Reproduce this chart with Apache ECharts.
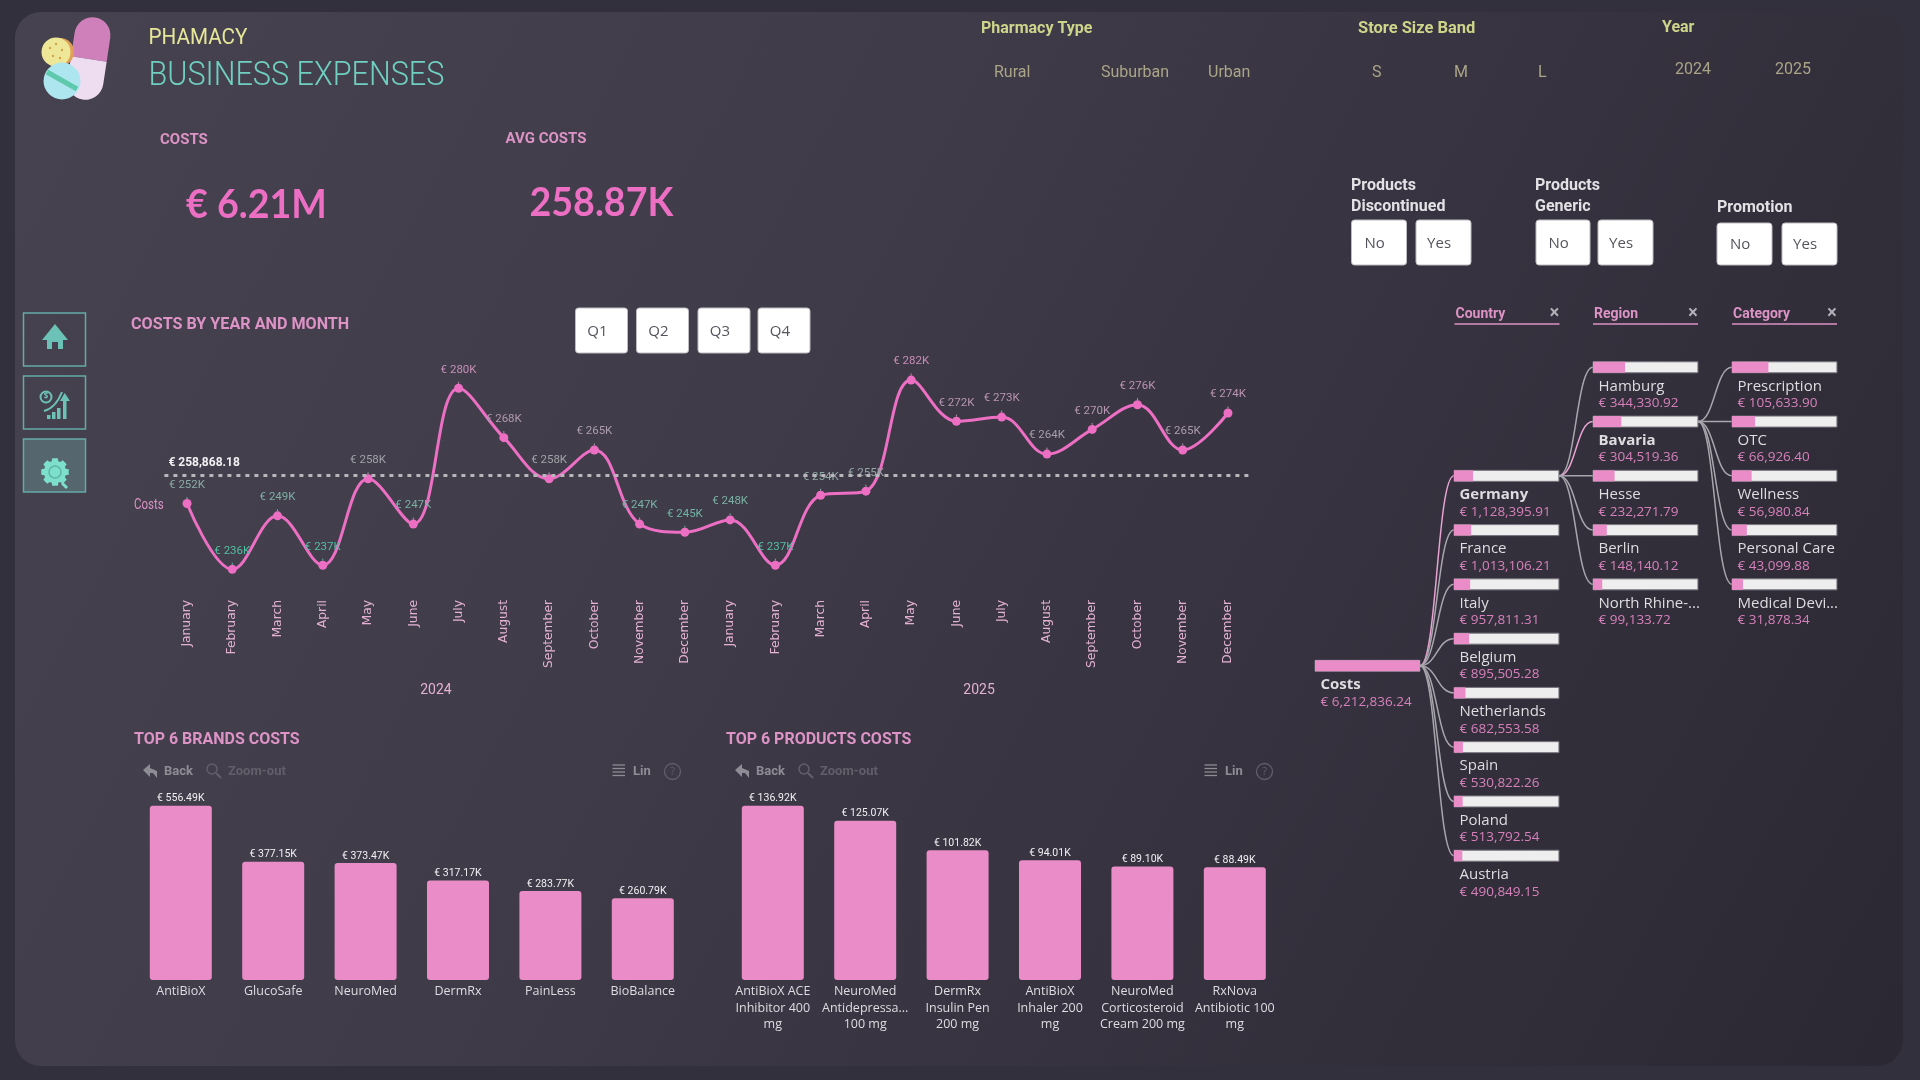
<!DOCTYPE html>
<html>
<head>
<meta charset="utf-8">
<title>Pharmacy Business Expenses</title>
<script src="https://cdn.jsdelivr.net/npm/echarts@6/dist/echarts.min.js"></script>
<style>
  html, body { margin: 0; padding: 0; width: 1920px; height: 1080px; overflow: hidden; background: #33303d; }
  #panel { position: absolute; left: 15px; top: 12px; width: 1888px; height: 1054px; border-radius: 26px;
           background: linear-gradient(118deg, #46424f 0%, #403c4a 35%, #36323f 65%, #2b2833 100%); }
  #chart { position: absolute; left: 0; top: 0; width: 1920px; height: 1080px; }
</style>
</head>
<body>
<div id="panel"></div>
<div id="chart"></div>
<script>
// Monthly costs, in thousands of euros
const months = ['January','February','March','April','May','June','July','August','September','October','November','December',
                'January','February','March','April','May','June','July','August','September','October','November','December'];
const years = ['2024', '2025'];
const monthlyCosts = [252,236,249,237,258,247,280,268,258,265,247,245,248,237,254,255,282,272,273,264,270,276,265,274];
const averageCost = 258.86818;

// Top six rankings, in thousands of euros
const brandNames = ['AntiBioX','GlucoSafe','NeuroMed','DermRx','PainLess','BioBalance'];
const brandCosts = [556.49,377.15,373.47,317.17,283.77,260.79];
const productNames = ['AntiBioX ACE\nInhibitor 400\nmg','NeuroMed\nAntidepressa...\n100 mg','DermRx\nInsulin Pen\n200 mg','AntiBioX\nInhaler 200\nmg','NeuroMed\nCorticosteroid\nCream 200 mg','RxNova\nAntibiotic 100\nmg'];
const productCosts = [136.92,125.07,101.82,94.01,89.10,88.49];

// Decomposition tree, in euros
const totalCost = 6212836.24;
const countryNames = ['Germany','France','Italy','Belgium','Netherlands','Spain','Poland','Austria'];
const countryCosts = [1128395.91,1013106.21,957811.31,895505.28,682553.58,530822.26,513792.54,490849.15];
const regionNames = ['Hamburg','Bavaria','Hesse','Berlin','North Rhine-...'];
const regionCosts = [344330.92,304519.36,232271.79,148140.12,99133.72];
const categoryNames = ['Prescription','OTC','Wellness','Personal Care','Medical Devi...'];
const categoryCosts = [105633.90,66926.40,56980.84,43099.88,31878.34];

const HEAD = 'Roboto, sans-serif';
const BODY = '"Open Sans", sans-serif';
const PINK = '#ec6fc4', BAR = '#ea8cc8', SOFT = '#dd93c6', TEAL = '#6fcfc0';

function eur(v) {
  return '€ ' + v.toLocaleString('en-US', { minimumFractionDigits: 2, maximumFractionDigits: 2 });
}
function mix(a, b, t) {
  const pa = a.match(/\w\w/g).map(h => parseInt(h, 16)), pb = b.match(/\w\w/g).map(h => parseInt(h, 16));
  return 'rgb(' + pa.map((c, i) => Math.round(c + (pb[i] - c) * t)).join(',') + ')';
}
// Labels shift from teal on low months through grey to pink on high months
function costColour(v) {
  return v < 258 ? mix('#4fc0a0', '#a0a4a8', (v - 236) / 22) : mix('#a0a4a8', '#c98cb8', (v - 258) / 24);
}

// Tree rows: column, row, value, parent value, parent row, emphasised, name
const treeNodes = [[0, 5.5, totalCost, totalCost, -1, 1, 'Costs']];
countryNames.forEach((n, i) => treeNodes.push([1, i + 2, countryCosts[i], totalCost, 5.5, i === 0 ? 1 : 0, n]));
regionNames.forEach((n, i) => treeNodes.push([2, i, regionCosts[i], countryCosts[0], 2, i === 1 ? 1 : 0, n]));
categoryNames.forEach((n, i) => treeNodes.push([3, i, categoryCosts[i], regionCosts[1], 1, 0, n]));
const COLUMN_SHARE = 0.755;

function renderTreeNode(params, api) {
  const node = treeNodes[params.dataIndex];
  const [col, row, value, parentValue, parentRow, strong, name] = node;
  const left = api.coord([col, row]);
  const right = api.coord([col + COLUMN_SHARE, row]);
  const fill = api.coord([col + COLUMN_SHARE * value / parentValue, row]);
  const h = 11;
  const kids = [];
  if (parentRow >= 0) {
    const from = api.coord([col - 1 + COLUMN_SHARE, parentRow]);
    const mid = (from[0] + left[0]) / 2;
    kids.push({
      type: 'bezierCurve',
      shape: { x1: from[0], y1: from[1], x2: left[0], y2: left[1], cpx1: mid, cpy1: from[1], cpx2: mid, cpy2: left[1] },
      style: { stroke: strong ? '#e8a3d2' : '#a8a6ad', lineWidth: 1.5, fill: null }
    });
  }
  kids.push({ type: 'rect', shape: { x: left[0], y: left[1] - h / 2, width: right[0] - left[0], height: h },
              style: { fill: '#eeeeee', stroke: '#77757d', lineWidth: 1 } });
  kids.push({ type: 'rect', shape: { x: left[0], y: left[1] - h / 2, width: fill[0] - left[0], height: h },
              style: { fill: BAR } });
  kids.push({ type: 'text', style: { x: left[0] + 5.5, y: left[1] + 19, text: name, fill: '#dedde0',
              font: (strong ? 'bold ' : '') + '15px ' + BODY, textVerticalAlign: 'middle' } });
  kids.push({ type: 'text', style: { x: left[0] + 5.5, y: left[1] + 36, text: eur(value), fill: '#d681bb',
              font: '13.5px ' + BODY, textVerticalAlign: 'middle' } });
  return { type: 'group', children: kids };
}

// Static page furniture
function txt(x, y, text, fill, font, align, squeeze) {
  return { type: 'text', x, y, scaleX: squeeze || 1,
           style: { text, fill, font, textAlign: align || 'left', textVerticalAlign: 'middle' } };
}
function button(x, y, w, h, label, size) {
  return [
    { type: 'rect', shape: { x, y, width: w, height: h, r: 3 }, style: { fill: '#ffffff', stroke: '#bdbcc2', lineWidth: 1 } },
    txt(x + w * 0.42, y + h / 2 + 1, label, '#55535c', size + 'px ' + BODY, 'center')
  ];
}
function gearTeeth(cx, cy, r) {
  const pts = [];
  for (let i = 0; i < 8; i++) {
    const a = i * Math.PI / 4;
    [[-0.3, r * 0.8], [-0.2, r], [0.2, r], [0.3, r * 0.8]].forEach(([d, rad]) => {
      pts.push([cx + Math.cos(a + d) * rad, cy + Math.sin(a + d) * rad]);
    });
  }
  return pts;
}
function toolbar(dx) {
  const grey = '#8e8c94', dim = '#625f6b';
  return [
    { type: 'polygon', shape: { points: [[143 + dx, 770], [150 + dx, 764], [150 + dx, 768], [157 + dx, 771], [157 + dx, 778], [153 + dx, 773], [150 + dx, 773], [150 + dx, 777]] },
      style: { fill: grey } },
    txt(164 + dx, 772, 'Back', grey, 'bold 13px ' + HEAD),
    { type: 'circle', shape: { cx: 212 + dx, cy: 769, r: 5 }, style: { fill: null, stroke: dim, lineWidth: 1.5 } },
    { type: 'line', shape: { x1: 216 + dx, y1: 773, x2: 221 + dx, y2: 778 }, style: { stroke: dim, lineWidth: 2 } },
    txt(228 + dx, 772, 'Zoom-out', dim, 'bold 13px ' + HEAD),
    ...[765, 768.5, 772, 775.5].map(y => ({ type: 'line', shape: { x1: 612.5 + dx, y1: y, x2: 625 + dx, y2: y }, style: { stroke: grey, lineWidth: 1.3 } })),
    txt(633 + dx, 772, 'Lin', grey, 'bold 13px ' + HEAD),
    { type: 'circle', shape: { cx: 672.5 + dx, cy: 771.5, r: 8 }, style: { fill: null, stroke: dim, lineWidth: 1.3 } },
    txt(672.5 + dx, 771.5, '?', dim, '11px ' + BODY, 'center')
  ];
}
function treeHeader(x, label) {
  return [
    txt(x + 1, 314.5, label, SOFT, 'bold 14px ' + HEAD),
    { type: 'line', shape: { x1: x, y1: 324, x2: x + 105, y2: 324 }, style: { stroke: SOFT, lineWidth: 1.5 } },
    txt(x + 100, 314, '×', '#b3b1b8', 'bold 19px ' + BODY, 'center')
  ];
}

const furniture = [
  // Logo
  { type: 'group', x: 89, y: 58, rotation: -0.15, children: [
    { type: 'rect', shape: { x: -18, y: -41, width: 36, height: 42, r: [18, 18, 0, 0] }, style: { fill: '#cf7fb9' } },
    { type: 'rect', shape: { x: -18, y: 1, width: 36, height: 41, r: [0, 0, 18, 18] }, style: { fill: '#eedcf0' } }
  ]},
  { type: 'circle', shape: { cx: 60, cy: 52, r: 14 }, style: { fill: '#e0a057' } },
  { type: 'circle', shape: { cx: 56, cy: 52, r: 14.5 }, style: { fill: '#eee797' } },
  ...[[50, 48], [56, 44], [62, 50], [53, 56], [60, 58]].map(([cx, cy]) => ({ type: 'circle', shape: { cx, cy, r: 1.2 }, style: { fill: '#d3a24f' } })),
  { type: 'circle', shape: { cx: 62, cy: 81, r: 18.5 }, style: { fill: '#ade6ee' } },
  { type: 'line', shape: { x1: 47, y1: 72, x2: 77, y2: 89 }, style: { stroke: '#5fc9ae', lineWidth: 5 } },

  // Heading and totals
  txt(148.5, 38, 'PHAMACY', '#e6e69a', '22px ' + HEAD, 'left', 0.94),
  txt(148.5, 76, 'BUSINESS EXPENSES', TEAL, '300 34px ' + HEAD, 'left', 0.9),
  txt(160, 140, 'COSTS', SOFT, 'bold 15px ' + HEAD),
  txt(505.5, 139, 'AVG COSTS', SOFT, 'bold 15px ' + HEAD),
  txt(186, 205, '€ 6.21M', PINK, 'bold 40px Lato', 'left', 0.94),
  txt(529.5, 203, '258.87K', PINK, 'bold 40px Lato', 'left', 0.94),

  // Slicers along the top
  txt(981, 29, 'Pharmacy Type', '#cdd58a', 'bold 16px ' + HEAD),
  txt(1358, 29, 'Store Size Band', '#cdd58a', 'bold 16px ' + HEAD, 'left', 1.03),
  txt(1662, 28, 'Year', '#cdd58a', 'bold 16px ' + HEAD),
  txt(994, 73, 'Rural', '#aaa587', '16px ' + HEAD),
  txt(1101, 73, 'Suburban', '#aaa587', '16px ' + HEAD),
  txt(1208, 73, 'Urban', '#aaa587', '16px ' + HEAD),
  txt(1372, 73, 'S', '#aaa587', '16px ' + HEAD),
  txt(1454, 73, 'M', '#aaa587', '16px ' + HEAD),
  txt(1538, 73, 'L', '#aaa587', '16px ' + HEAD),
  txt(1675, 70, '2024', '#aaa587', '16px ' + HEAD),
  txt(1775, 70, '2025', '#aaa587', '16px ' + HEAD),

  txt(1351, 186, 'Products', '#e2e1e4', 'bold 16px ' + HEAD),
  txt(1351, 207, 'Discontinued', '#e2e1e4', 'bold 16px ' + HEAD),
  txt(1535, 186, 'Products', '#e2e1e4', 'bold 16px ' + HEAD),
  txt(1535, 207, 'Generic', '#e2e1e4', 'bold 16px ' + HEAD),
  txt(1717, 208, 'Promotion', '#e2e1e4', 'bold 16px ' + HEAD),
  ...button(1351.5, 220, 55, 45, 'No', 15), ...button(1416, 220, 55, 45, 'Yes', 15),
  ...button(1536, 220, 54, 45, 'No', 15), ...button(1598, 220, 55, 45, 'Yes', 15),
  ...button(1717, 223, 55, 42, 'No', 15), ...button(1782, 223, 55, 42, 'Yes', 15),

  // Navigation
  { type: 'rect', shape: { x: 23.5, y: 313, width: 62, height: 53 }, style: { fill: 'transparent', stroke: '#66aaa6', lineWidth: 1.5 } },
  { type: 'rect', shape: { x: 23.5, y: 376, width: 62, height: 53 }, style: { fill: 'transparent', stroke: '#66aaa6', lineWidth: 1.5 } },
  { type: 'rect', shape: { x: 23.5, y: 439, width: 62, height: 53 }, style: { fill: '#55666f', stroke: '#66aaa6', lineWidth: 1.5 } },
  { type: 'polygon', shape: { points: [[55, 324], [68, 340], [63, 340], [63, 349], [58, 349], [58, 342], [52, 342], [52, 349], [47, 349], [47, 340], [42, 340]] }, style: { fill: '#6cc2b6' } },
  { type: 'circle', shape: { cx: 46, cy: 397, r: 5.5 }, style: { fill: null, stroke: '#6cc2b6', lineWidth: 2 } },
  txt(46, 397, '$', '#6cc2b6', 'bold 8px ' + BODY, 'center'),
  { type: 'bezierCurve', shape: { x1: 44, y1: 411, x2: 62, y2: 392, cpx1: 52, cpy1: 409, cpx2: 58, cpy2: 402 }, style: { fill: null, stroke: '#6cc2b6', lineWidth: 2 } },
  ...[[47, 415, 4], [52, 412, 7], [57, 408, 11], [63, 399, 20]].map(([x, y, h]) => ({ type: 'rect', shape: { x, y, width: 3.5, height: h }, style: { fill: '#6cc2b6' } })),
  { type: 'polygon', shape: { points: [[64.7, 393], [70, 401], [60, 401]] }, style: { fill: '#6cc2b6' } },
  { type: 'polygon', shape: { points: gearTeeth(55, 472, 14) }, style: { fill: '#7de0cd' } },
  { type: 'circle', shape: { cx: 55, cy: 472, r: 6 }, style: { fill: null, stroke: '#5fb3a6', lineWidth: 1.5 } },
  { type: 'line', shape: { x1: 62, y1: 483, x2: 67, y2: 488 }, style: { stroke: '#7de0cd', lineWidth: 3 } },

  // Monthly costs heading and quarter buttons
  txt(131, 325, 'COSTS BY YEAR AND MONTH', SOFT, 'bold 17px ' + HEAD, 'left', 0.95),
  txt(134, 505, 'Costs', SOFT, '14px ' + HEAD, 'left', 0.82),
  ...button(575.5, 308, 52, 45, 'Q1', 15), ...button(636.5, 308, 52, 45, 'Q2', 15),
  ...button(698, 308, 52, 45, 'Q3', 15), ...button(758, 308, 52, 45, 'Q4', 15),

  // Ranking headings and their toolbars
  txt(134, 740, 'TOP 6 BRANDS COSTS', SOFT, 'bold 17px ' + HEAD, 'left', 0.94),
  txt(726, 740, 'TOP 6 PRODUCTS COSTS', SOFT, 'bold 17px ' + HEAD, 'left', 0.94),
  ...toolbar(0), ...toolbar(592),

  // Tree column headers
  ...treeHeader(1454.5, 'Country'), ...treeHeader(1593, 'Region'), ...treeHeader(1732, 'Category')
];

function rankSeries(values, xIdx, yIdx) {
  return {
    type: 'bar', xAxisIndex: xIdx, yAxisIndex: yIdx, data: values, barWidth: 62,
    itemStyle: { color: BAR, borderRadius: 3 },
    label: { show: true, position: 'top', distance: 1.5, color: '#f1f0f3', fontFamily: 'Roboto', fontSize: 10.5,
             formatter: p => '€ ' + p.value.toFixed(2) + 'K' }
  };
}
function rankXAxis(names, grid) {
  return {
    type: 'category', gridIndex: grid, data: names,
    axisLine: { show: false }, axisTick: { show: false },
    axisLabel: { interval: 0, margin: 3.5, color: '#dedde2', fontFamily: BODY, fontSize: 12.5, lineHeight: 16.5 }
  };
}

const chart = echarts.init(document.getElementById('chart'));
chart.setOption({
  backgroundColor: 'transparent',
  animation: false,
  graphic: { elements: furniture },
  grid: [
    { left: 164.4, top: 306, width: 1086.2, height: 288 },
    { left: 134.6, top: 792, width: 554.4, height: 188 },
    { left: 726.6, top: 789, width: 554.4, height: 191 },
    { left: 1315, top: 367.3, width: 556, height: 488.4 }
  ],
  xAxis: [
    { type: 'category', gridIndex: 0, data: months,
      axisLine: { show: false }, axisTick: { show: false },
      axisLabel: { interval: 0, rotate: 90, margin: 6, color: '#e3b1d3', fontFamily: 'DejaVu Sans', fontSize: 12.3 } },
    { type: 'category', gridIndex: 0, data: years, position: 'bottom', offset: 86,
      axisLine: { show: false }, axisTick: { show: false },
      axisLabel: { margin: 3, color: '#e3b1d3', fontFamily: HEAD, fontSize: 14 } },
    rankXAxis(brandNames, 1),
    rankXAxis(productNames, 2),
    { type: 'value', gridIndex: 3, min: 0, max: 4, show: false }
  ],
  yAxis: [
    { type: 'value', gridIndex: 0, min: 230, max: 300, show: false },
    { type: 'value', gridIndex: 1, min: 0, max: 600, show: false },
    { type: 'value', gridIndex: 2, min: 0, max: 150, show: false },
    { type: 'value', gridIndex: 3, min: 0, max: 9, inverse: true, show: false }
  ],
  series: [
    {
      type: 'line', xAxisIndex: 0, yAxisIndex: 0, smooth: 0.38, symbol: 'circle', symbolSize: 9,
      lineStyle: { color: PINK, width: 3 }, itemStyle: { color: PINK },
      data: monthlyCosts.map(v => ({
        value: v,
        label: { color: costColour(v) },
        labelLine: { lineStyle: { color: costColour(v) } }
      })),
      label: { show: true, position: 'top', distance: 8, fontFamily: HEAD, fontSize: 11.5, formatter: p => '€ ' + p.value + 'K' },
      labelLine: { show: true, lineStyle: { width: 1 } },
      markLine: {
        silent: true, symbol: 'none',
        lineStyle: { color: '#b8b6bb', type: [4, 5], width: 3 },
        label: { position: 'insideStartTop', formatter: () => eur(averageCost * 1000), color: '#f2f1f3',
                 fontFamily: HEAD, fontWeight: 'bold', fontSize: 12, distance: [4, 6] },
        data: [{ yAxis: averageCost }]
      }
    },
    rankSeries(brandCosts, 2, 1),
    rankSeries(productCosts, 3, 2),
    {
      type: 'custom', coordinateSystem: 'cartesian2d', xAxisIndex: 4, yAxisIndex: 3,
      data: treeNodes.map(n => n.slice(0, 6)),
      encode: { x: 0, y: 1 },
      renderItem: renderTreeNode
    }
  ]
});
</script>
</body>
</html>
